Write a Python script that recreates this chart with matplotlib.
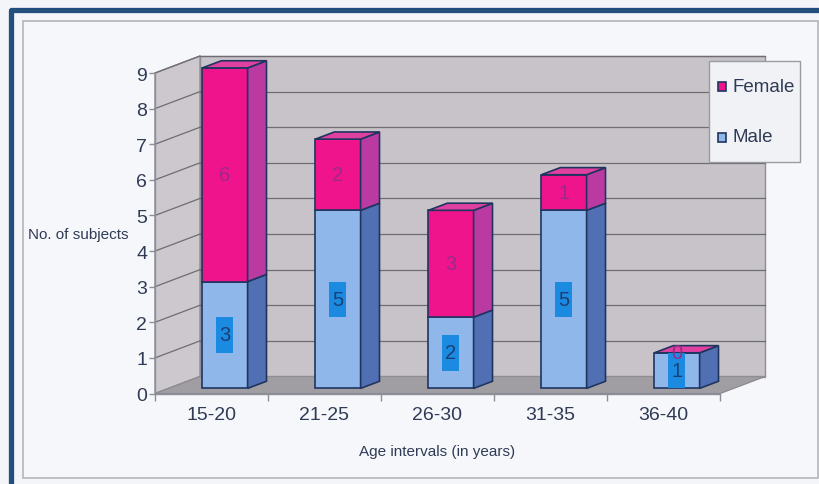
import matplotlib
matplotlib.use("Agg")
import matplotlib.pyplot as plt
from matplotlib.patches import Polygon, Rectangle
from matplotlib import font_manager

# ---- data ----
categories = ["15-20", "21-25", "26-30", "31-35", "36-40"]
male = [3, 5, 2, 5, 1]
female = [6, 2, 3, 1, 0]
series_names = ["Female", "Male"]
y_ticks = list(range(0, 10))
x_title = "Age intervals (in years)"
y_title = "No. of subjects"

# ---- style ----
avail = {f.name for f in font_manager.fontManager.ttflist}
FONT = "Liberation Sans Narrow" if "Liberation Sans Narrow" in avail else "Liberation Sans"
plt.rcParams["font.family"] = [FONT, "DejaVu Sans"]
TXT = "#2f3b55"
EDGE = "#1f3560"
GRID = "#6e6c74"
WALL_BACK = "#c8c3c8"
WALL_SIDE = "#cdc8cd"
FLOOR = "#a19ea3"
FEM = dict(front="#f0148c", side="#bb3aa2", top="#e0409f", label="#9a2a88")
MAL = dict(front="#90b7ea", side="#5170b4", top="#7ba4de", label="#1d3f78")
MALE_BOX = "#1a8be0"
BG = "#f4f5f9"

W, H = 820, 485
fig = plt.figure(figsize=(W / 100, H / 100), dpi=100, facecolor=BG)

# background frame, in pixel coordinates
bg = fig.add_axes([0, 0, 1, 1], zorder=0)
bg.set_xlim(0, W)
bg.set_ylim(H, 0)
bg.axis("off")
bg.add_patch(Rectangle((23, 22), 795, 457, facecolor="#f6f7fb", edgecolor="#b4b6bc", lw=1.2))
bg.plot([11, 11, W + 5], [H + 5, 10.5, 10.5], color="#234f7e", lw=3.8, solid_capstyle="butt")

# main plotting area: the front plane of the 3-D box
x0p, x1p, y0p, y9p = 155, 720, 394.5, 74
ax = fig.add_axes([x0p / W, (H - y0p) / H, (x1p - x0p) / W, (y0p - y9p) / H], zorder=1)
ax.patch.set_alpha(0)
n = len(categories)
ymax = y_ticks[-1]
ax.set_xlim(0, n)
ax.set_ylim(0, ymax)

px_x = (x1p - x0p) / n
px_y = (y0p - y9p) / ymax
DX = 45 / px_x      # depth offset in data units
DY = 17 / px_y

def poly(pts, fc, ec=EDGE, lw=1.2, z=2):
    ax.add_patch(Polygon(pts, closed=True, facecolor=fc, edgecolor=ec, lw=lw,
                         clip_on=False, zorder=z, joinstyle="miter"))

# walls and floor
poly([(DX, DY), (n + DX, DY), (n + DX, ymax + DY), (DX, ymax + DY)], WALL_BACK, ec="#8e8c94", lw=1.0, z=0.5)
poly([(0, 0), (DX, DY), (DX, ymax + DY), (0, ymax)], WALL_SIDE, ec="#8e8c94", lw=1.0, z=0.5)
for v in y_ticks[1:]:
    ax.plot([DX, n + DX], [v + DY, v + DY], color=GRID, lw=0.9, clip_on=False, zorder=0.6)
    ax.plot([0, DX], [v, v + DY], color=GRID, lw=0.9, clip_on=False, zorder=0.6)
poly([(0, 0), (n, 0), (n + DX, DY), (DX, DY)], FLOOR, ec="#8e8c94", lw=1.0, z=0.7)

# stacked 3-D bars
bw = 0.4
d0, d1 = 0.30, 0.72
for i, (m, f) in enumerate(zip(male, female)):
    xa = i + 0.5 - bw / 2
    xb = i + 0.5 + bw / 2
    segs = [(0, m, MAL, m), (m, m + f, FEM, f)]
    for k, (b, t, col, val) in enumerate(segs):
        fx0, fx1 = xa + d0 * DX, xb + d0 * DX
        fb, ft = b + d0 * DY, t + d0 * DY
        sx1 = xb + d1 * DX
        if t > b:
            poly([(fx0, fb), (fx1, fb), (fx1, ft), (fx0, ft)], col["front"], z=3 + i)
            poly([(fx1, fb), (sx1, b + d1 * DY), (sx1, t + d1 * DY), (fx1, ft)], col["side"], z=3 + i)
        if k == len(segs) - 1:
            poly([(fx0, ft), (fx1, ft), (sx1, t + d1 * DY), (xa + d1 * DX, t + d1 * DY)], col["top"], z=3 + i)
        cx = (fx0 + fx1) / 2
        cy = (fb + ft) / 2
        if col is MAL:
            bh = min(1.0, t - b)
            bwid = 17 / px_x
            ax.add_patch(Rectangle((cx - bwid / 2, cy - bh / 2), bwid, bh, facecolor=MALE_BOX,
                                   edgecolor="none", clip_on=False, zorder=3.5 + i))
        ax.text(cx, cy, str(val), ha="center", va="center", fontsize=14.5,
                color=col["label"], zorder=3.6 + i, clip_on=False)

# axes, ticks and labels
for s in ("top", "right"):
    ax.spines[s].set_visible(False)
for s in ("left", "bottom"):
    ax.spines[s].set_color("#8a8f9a")
    ax.spines[s].set_linewidth(1.0)
    ax.spines[s].set_zorder(0.8)
ax.set_yticks(y_ticks)
ax.set_yticklabels([str(v) for v in y_ticks])
ax.tick_params(axis="y", length=4, width=1, color="#8a8f9a", pad=1.5, labelsize=14, labelcolor=TXT)
ax.set_xticks(range(n + 1))
ax.set_xticklabels([""] * (n + 1))
ax.tick_params(axis="x", which="major", length=5, width=1, color="#8a8f9a")
ax.set_xticks([i + 0.5 for i in range(n)], minor=True)
ax.set_xticklabels(categories, minor=True)
ax.tick_params(axis="x", which="minor", length=0, pad=9, labelsize=14, labelcolor=TXT)

ax.set_xlabel(x_title, fontsize=11, color=TXT)
ax.xaxis.set_label_coords(0.5, (y0p - 452) / (y0p - y9p))
ax.xaxis.label.set_va("center")
ax.set_ylabel(y_title, fontsize=11, color=TXT, rotation=0)
ax.yaxis.set_label_coords((78 - x0p) / (x1p - x0p), (y0p - 235) / (y0p - y9p))
ax.yaxis.label.set_ha("center")
ax.yaxis.label.set_va("center")

# legend, in pixel coordinates above everything
fg = fig.add_axes([0, 0, 1, 1], zorder=5)
fg.set_xlim(0, W)
fg.set_ylim(H, 0)
fg.axis("off")
fg.patch.set_alpha(0)
fg.add_patch(Rectangle((709, 62), 91, 101, facecolor="#f1f2f6", edgecolor="#9a9ca4", lw=1.0))
for name, col, yc in zip(series_names, (FEM, MAL), (87, 138)):
    fg.add_patch(Rectangle((718, yc - 4.5), 8, 9, facecolor=col["front"], edgecolor=EDGE, lw=1.2))
    fg.text(733, yc, name, ha="left", va="center", fontsize=13.5, color=TXT)

fig.savefig("out.png", dpi=100, facecolor=BG)
